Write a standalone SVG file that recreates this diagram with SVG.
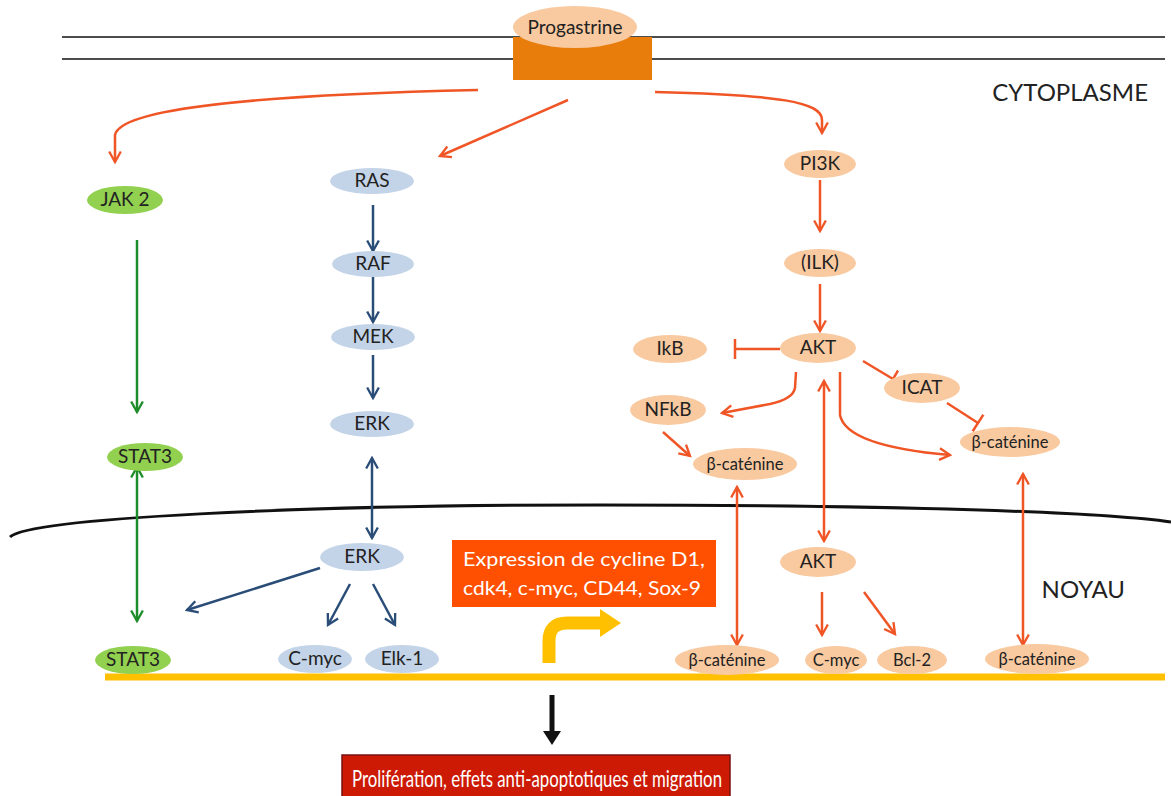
<svg xmlns="http://www.w3.org/2000/svg" width="1171" height="796" viewBox="0 0 1171 796">
<defs>
<style>
text{font-family:"Lato","Liberation Sans",sans-serif;fill:#222;}
.n{font-size:19px;text-anchor:middle;}
.s{font-size:16.5px;text-anchor:middle;}
.peach{fill:#f9c9a0;}
.blue{fill:#c3d4e8;}
.green{fill:#92d050;}
.or{stroke:#f05526;stroke-width:2.5;fill:none;}
.bl{stroke:#2a4d78;stroke-width:2.5;fill:none;}
.gr{stroke:#1f8c2a;stroke-width:2.5;fill:none;}
.big{font-size:24px;}
</style>
<marker id="ao" viewBox="0 0 12 12" refX="10" refY="6" markerWidth="14" markerHeight="14" markerUnits="userSpaceOnUse" orient="auto-start-reverse"><path d="M1,1 L10,6 L1,11" fill="none" stroke="#f05526" stroke-width="2"/></marker>
<marker id="ab" viewBox="0 0 12 12" refX="10" refY="6" markerWidth="14" markerHeight="14" markerUnits="userSpaceOnUse" orient="auto-start-reverse"><path d="M1,1 L10,6 L1,11" fill="none" stroke="#2a4d78" stroke-width="2"/></marker>
<marker id="ag" viewBox="0 0 12 12" refX="10" refY="6" markerWidth="14" markerHeight="14" markerUnits="userSpaceOnUse" orient="auto-start-reverse"><path d="M1,1 L10,6 L1,11" fill="none" stroke="#1f8c2a" stroke-width="2"/></marker>
<marker id="tb" viewBox="0 0 4 20" refX="2" refY="10" markerWidth="4" markerHeight="20" markerUnits="userSpaceOnUse" orient="auto"><line x1="2" y1="0" x2="2" y2="20" stroke="#f05526" stroke-width="2.5"/></marker>
</defs>
<rect width="1171" height="796" fill="#fff"/>

<g id="membranes">
<line x1="62" y1="37" x2="1165" y2="37" stroke="#111" stroke-width="1.5"/>
<line x1="62" y1="59" x2="1165" y2="59" stroke="#111" stroke-width="1.5"/>
<path d="M10,537 C30,518 300,505 600,505 C900,505 1100,512 1171,522" fill="none" stroke="#111" stroke-width="3"/>
<line x1="105" y1="677" x2="1165" y2="677" stroke="#ffc000" stroke-width="7"/>
</g>

<g id="receptor">
<rect x="513" y="37" width="139" height="43" fill="#e97d0c"/>
<ellipse cx="575" cy="27" rx="62" ry="21" class="peach"/>
<text x="575" y="34" class="n" style="font-size:19px">Progastrine</text>
</g>

<text x="1148" y="101" class="big" text-anchor="end">CYTOPLASME</text>
<text x="1125" y="598" class="big" text-anchor="end">NOYAU</text>

<g id="connectors">
<path class="or" d="M478,90 C260,95 120,108 115,135 L115,162" marker-end="url(#ao)"/>
<path class="or" d="M568,100 L440,156" marker-end="url(#ao)"/>
<path class="or" d="M655,92 C780,95 822,102 822,120 L822,133" marker-end="url(#ao)"/>
<path class="gr" d="M137,240 L137,412" marker-end="url(#ag)"/>
<path class="gr" d="M137,467 L137,621" marker-start="url(#ag)" marker-end="url(#ag)"/>
<path class="bl" d="M373,205 L373,251" marker-end="url(#ab)"/>
<path class="bl" d="M373,277 L373,322" marker-end="url(#ab)"/>
<path class="bl" d="M373,355 L373,398" marker-end="url(#ab)"/>
<path class="bl" d="M372,458 L372,538" marker-start="url(#ab)" marker-end="url(#ab)"/>
<path class="bl" d="M320,568 L187,610" marker-end="url(#ab)"/>
<path class="bl" d="M350,584 L328,625" marker-end="url(#ab)"/>
<path class="bl" d="M373,584 L395,625" marker-end="url(#ab)"/>
<path class="or" d="M820,180 L820,231" marker-end="url(#ao)"/>
<path class="or" d="M820,284 L820,331" marker-end="url(#ao)"/>
<path class="or" d="M780,349 L735,349" marker-end="url(#tb)"/>
<path class="or" d="M863,361 L893,379" marker-end="url(#tb)"/>
<path class="or" d="M947,403 L978,423" marker-end="url(#tb)"/>
<path class="or" d="M796,372 L795,388 Q793,399 770,404 L722,413" marker-end="url(#ao)"/>
<path class="or" d="M663,432 L690,456" marker-end="url(#ao)"/>
<path class="or" d="M840,372 L840,415 Q846,446 950,455" marker-end="url(#ao)"/>
<path class="or" d="M824,381 L824,541" marker-start="url(#ao)" marker-end="url(#ao)"/>
<path class="or" d="M737,487 L737,645" marker-start="url(#ao)" marker-end="url(#ao)"/>
<path class="or" d="M1023,474 L1023,645" marker-start="url(#ao)" marker-end="url(#ao)"/>
<path class="or" d="M822,592 L822,635" marker-end="url(#ao)"/>
<path class="or" d="M864,592 L895,634" marker-end="url(#ao)"/>
<path d="M549,663 L549,641 Q549,623 567,623 L601,623" fill="none" stroke="#ffc000" stroke-width="13"/>
<polygon points="600,609 621,623 600,637" fill="#ffc000"/>
<line x1="552" y1="695" x2="552" y2="733" stroke="#111" stroke-width="5"/>
<polygon points="543,731 561,731 552,745" fill="#111"/>
</g>

<g id="JAK2"><ellipse cx="125" cy="200" rx="38" ry="14" class="green"/><text x="125" y="206" class="n">JAK 2</text></g>
<g id="STAT3a"><ellipse cx="145" cy="457" rx="38" ry="14" class="green"/><text x="145" y="463" class="n">STAT3</text></g>
<g id="STAT3b"><ellipse cx="133" cy="660" rx="38" ry="14" class="green"/><text x="133" y="666" class="n">STAT3</text></g>

<g id="RAS"><ellipse cx="372" cy="181" rx="42" ry="13" class="blue"/><text x="372" y="187" class="n">RAS</text></g>
<g id="RAF"><ellipse cx="373" cy="264" rx="41" ry="13" class="blue"/><text x="373" y="270" class="n">RAF</text></g>
<g id="MEK"><ellipse cx="373" cy="337" rx="42" ry="13" class="blue"/><text x="373" y="343" class="n">MEK</text></g>
<g id="ERKa"><ellipse cx="372" cy="424" rx="42" ry="13" class="blue"/><text x="372" y="430" class="n">ERK</text></g>
<g id="ERKb"><ellipse cx="362" cy="557" rx="42" ry="14" class="blue"/><text x="362" y="563" class="n">ERK</text></g>
<g id="Cmyc1"><ellipse cx="315" cy="659" rx="37" ry="14" class="blue"/><text x="315" y="665" class="n">C-myc</text></g>
<g id="Elk1"><ellipse cx="402" cy="659" rx="37" ry="14" class="blue"/><text x="402" y="665" class="n">Elk-1</text></g>

<g id="PI3K"><ellipse cx="820" cy="164" rx="36" ry="14" class="peach"/><text x="820" y="170" class="n">PI3K</text></g>
<g id="ILK"><ellipse cx="820" cy="263" rx="36" ry="14" class="peach"/><text x="820" y="269" class="n">(ILK)</text></g>
<g id="AKTa"><ellipse cx="818" cy="348" rx="38" ry="15" class="peach"/><text x="818" y="354" class="n">AKT</text></g>
<g id="IkB"><ellipse cx="670" cy="349" rx="37" ry="14" class="peach"/><text x="670" y="355" class="n">IkB</text></g>
<g id="ICAT"><ellipse cx="922" cy="388" rx="38" ry="15" class="peach"/><text x="922" y="394" class="n">ICAT</text></g>
<g id="NFkB"><ellipse cx="668" cy="410" rx="38" ry="15" class="peach"/><text x="668" y="416" class="n">NFkB</text></g>
<g id="bcat1"><ellipse cx="745" cy="464" rx="52" ry="16" class="peach"/><text x="745" y="470" class="s">β-caténine</text></g>
<g id="bcat2"><ellipse cx="1010" cy="442" rx="50" ry="15" class="peach"/><text x="1010" y="448" class="s">β-caténine</text></g>
<g id="AKTb"><ellipse cx="818" cy="562" rx="38" ry="15" class="peach"/><text x="818" y="568" class="n">AKT</text></g>
<g id="bcat3"><ellipse cx="727" cy="660" rx="52" ry="15" class="peach"/><text x="727" y="666" class="s">β-caténine</text></g>
<g id="Cmyc2"><ellipse cx="836" cy="660" rx="31" ry="14" class="peach"/><text x="836" y="666" class="s">C-myc</text></g>
<g id="Bcl2"><ellipse cx="912" cy="660" rx="35" ry="14" class="peach"/><text x="912" y="666" class="s">Bcl-2</text></g>
<g id="bcat4"><ellipse cx="1037" cy="659" rx="52" ry="15" class="peach"/><text x="1037" y="665" class="s">β-caténine</text></g>

<g id="expression">
<rect x="452" y="540" width="264" height="67" fill="#fe5000"/>
<text x="463" y="566" textLength="242" lengthAdjust="spacingAndGlyphs" style="fill:#fff;font-size:20px">Expression de cycline D1,</text>
<text x="463" y="595" textLength="238" lengthAdjust="spacingAndGlyphs" style="fill:#fff;font-size:20px">cdk4, c-myc, CD44, Sox-9</text>
</g>

<g id="result">
<rect x="342" y="755" width="388" height="45" fill="#cc1a05" stroke="#7a1010" stroke-width="1.5"/>
<text x="352" y="787" textLength="370" lengthAdjust="spacingAndGlyphs" style="fill:#fff;font-size:24px">Prolifération, effets anti-apoptotiques et migration</text>
</g>
</svg>
